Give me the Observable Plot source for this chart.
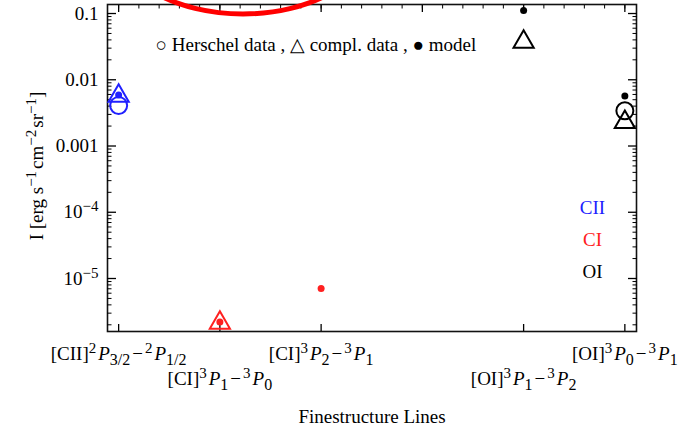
<!DOCTYPE html>
<html><head><meta charset="utf-8">
<script src="https://cdn.jsdelivr.net/npm/d3@7"></script>
<script src="https://cdn.jsdelivr.net/npm/@observablehq/plot@0.6"></script>
<style>body{margin:0;background:#fff} #chart svg{display:block}</style>
</head><body><div id="chart"></div>
<script>
// ---- data ----
// markup: ^{sup}  _{sub}  *italic*  ~ small gap
const lineLabels = [
  "[CII]^{2}~*P*_{3/2}~−~^{2}~*P*_{1/2}",
  "[CI]^{3}~*P*_{1}~−~^{3}~*P*_{0}",
  "[CI]^{3}~*P*_{2}~−~^{3}~*P*_{1}",
  "[OI]^{3}~*P*_{1}~−~^{3}~*P*_{2}",
  "[OI]^{3}~*P*_{0}~−~^{3}~*P*_{1}"
];
const linePos = [1, 2, 3, 5, 6];
const species = ["CII", "CI", "CI", "OI", "OI"];
const herschel = [0.0041, null, null, null, 0.0034];
const compl = [0.0057, 2.14e-6, null, 0.0374, 0.0023];
const model = [0.0059, 2.2e-6, 7.06e-6, 0.111, 0.0057];
const speciesNames = ["CII", "CI", "OI"];
const speciesColors = ["#2020ff", "#ff2020", "#000000"];
const yTicks = [0.1, 0.01, 0.001, 1e-4, 1e-5];
const yTickLabels = ["0.1", "0.01", "0.001", "10^{−4}", "10^{−5}"];
const legendText = "○ Herschel data , △ compl. data , ● model";
const xTitle = "Finestructure Lines";
const yTitle = "I [erg s^{−1}~cm^{−2}~sr^{−1}]";

// ---- build ----
const colorOf = s => speciesColors[speciesNames.indexOf(s)];
const rows = vals => linePos.map((x, i) => ({x, v: vals[i], c: colorOf(species[i])})).filter(d => d.v != null);
const yMinor = [];
for (let e = -6; e <= -1; e++) for (let k = 2; k <= 9; k++) { const v = k * Math.pow(10, e); if (v > 1.585e-6 && v < 0.1368) yMinor.push(v); }
const xMajor = d3.range(1, 7, 1);
const xMinor = d3.range(0, 26).map(i => 1 + i * 0.2);
const row1 = linePos.filter((d, i) => i % 2 === 0);
const row2 = linePos.filter((d, i) => i % 2 === 1);
const fmtX = d => lineLabels[linePos.indexOf(d)];

const plot = Plot.plot({
  width: 691, height: 427,
  marginLeft: 107, marginRight: 55, marginTop: 4, marginBottom: 96,
  style: {fontFamily: "'Liberation Serif', 'Times New Roman', serif", fontSize: "19px", color: "#000", background: "#fff"},
  x: {domain: [0.89, 6.115], label: null},
  y: {type: "log", domain: [1.585e-6, 0.1368], label: null},
  color: {type: "identity"},
  marks: [
    Plot.frame({stroke: "#111", strokeWidth: 1.6}),
    Plot.axisY(yTicks, {anchor: "left", tickSize: 0, tickPadding: 9, tickFormat: d => yTickLabels[yTicks.indexOf(d)], label: null}),
    Plot.axisY(yTicks, {anchor: "left", tickSize: -9, fill: "none", label: null, strokeWidth: 1.3}),
    Plot.axisY(yMinor, {anchor: "left", tickSize: -4.5, fill: "none", label: null}),
    Plot.axisY(yTicks, {anchor: "right", tickSize: -9, fill: "none", label: null, strokeWidth: 1.3}),
    Plot.axisY(yMinor, {anchor: "right", tickSize: -4.5, fill: "none", label: null}),
    Plot.axisX(linePos, {anchor: "bottom", tickSize: -7, fill: "none", label: null, strokeWidth: 1.3}),
    Plot.axisX(xMajor, {anchor: "top", tickSize: -7, fill: "none", label: null, strokeWidth: 1.3}),
    Plot.axisX(xMinor, {anchor: "top", tickSize: -3.5, fill: "none", label: null}),
    Plot.axisX(row1, {anchor: "bottom", tickSize: 0, tickPadding: 15, tickFormat: fmtX, label: null}),
    Plot.axisX(row2, {anchor: "bottom", tickSize: 0, tickPadding: 40, tickFormat: fmtX, label: null}),
    Plot.dot(rows(herschel), {x: "x", y: "v", r: 8.5, stroke: "c", strokeWidth: 2, fill: "none"}),
    Plot.dot(rows(compl), {x: "x", y: "v", symbol: "triangle", r: 7.5, stroke: "c", strokeWidth: 2, fill: "none"}),
    Plot.dot(rows(model), {x: "x", y: "v", r: 3.5, fill: "c", stroke: null}),
    Plot.text([legendText], {frameAnchor: "top-left", textAnchor: "start", lineAnchor: "middle", dx: 48, dy: 40}),
    Plot.text([speciesNames[0]], {frameAnchor: "top-right", textAnchor: "middle", lineAnchor: "middle", dx: -44, dy: 203, fill: speciesColors[0]}),
    Plot.text([speciesNames[1]], {frameAnchor: "top-right", textAnchor: "middle", lineAnchor: "middle", dx: -44, dy: 235, fill: speciesColors[1]}),
    Plot.text([speciesNames[2]], {frameAnchor: "top-right", textAnchor: "middle", lineAnchor: "middle", dx: -44, dy: 267, fill: speciesColors[2]}),
    Plot.text([xTitle], {frameAnchor: "bottom", lineAnchor: "middle", dy: 85}),
    Plot.text([yTitle], {frameAnchor: "left", rotate: -90, textAnchor: "middle", dx: -65, dy: -2, lineAnchor: "bottom"})
  ]
});

// rich text: ^{sup}, _{sub}, *italic*, ~ gap
const NS = "http://www.w3.org/2000/svg";
function richify(el) {
  const s = el.textContent;
  if (!/[\^_*~]/.test(s)) return;
  while (el.firstChild) el.removeChild(el.firstChild);
  let off = 0, gap = 0;
  for (const m of s.matchAll(/\^\{([^}]*)\}|_\{([^}]*)\}|\*([^*]*)\*|(~)|([^^_*~]+)/g)) {
    if (m[4] !== undefined) { gap += 2; continue; }
    const t = document.createElementNS(NS, "tspan");
    let target = 0, txt;
    if (m[1] !== undefined) { target = -7; txt = m[1]; t.setAttribute("font-size", 15); }
    else if (m[2] !== undefined) { target = 5; txt = m[2]; t.setAttribute("font-size", 16); }
    else if (m[3] !== undefined) { txt = m[3]; t.setAttribute("font-style", "italic"); }
    else txt = m[5];
    if (target !== off) t.setAttribute("dy", target - off);
    if (gap) t.setAttribute("dx", gap);
    off = target; gap = 0;
    t.textContent = txt;
    el.appendChild(t);
  }
}
plot.querySelectorAll("text").forEach(richify);

// red annotation ellipse (clipped at the top of the picture)
d3.select(plot).append("ellipse")
  .attr("cx", 243).attr("cy", -66).attr("rx", 130).attr("ry", 80)
  .attr("fill", "none").attr("stroke", "#ff0000").attr("stroke-width", 5);

document.getElementById("chart").appendChild(plot);
</script>
</body></html>
